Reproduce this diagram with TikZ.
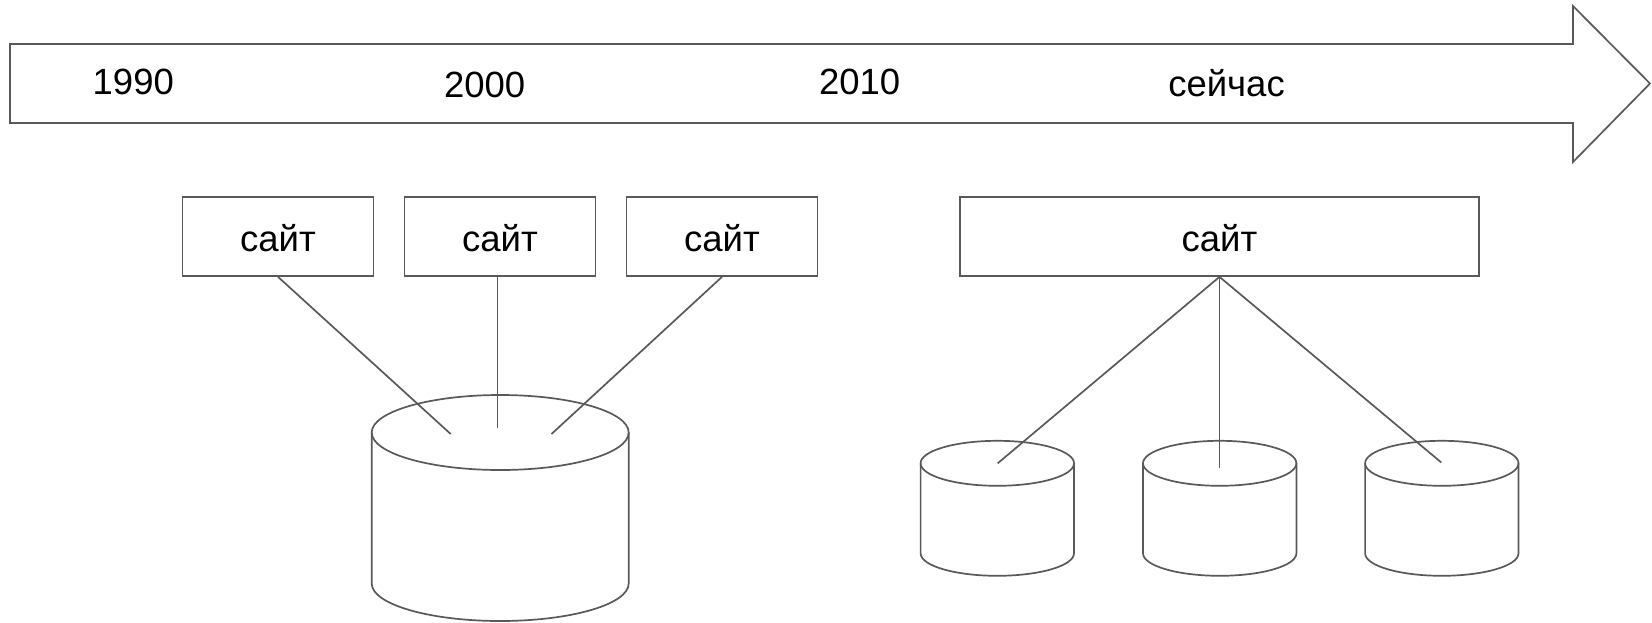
\documentclass[tikz,border=0pt]{standalone}
\usepackage{fontspec}
\setmainfont{Liberation Sans}
\definecolor{linegray}{HTML}{595959}
\tikzset{
  outline/.style={draw=linegray, line width=1.7pt, line join=miter},
  edge/.style={draw=linegray, line width=1.7pt},
  labeltext/.style={font=\fontsize{36.5}{44}\selectfont, text=black},
  yearlabel/.style={labeltext, anchor=base, inner sep=0pt},
  sitebox/.style={outline, labeltext, minimum width=191pt, minimum height=79pt,
    inner sep=0pt, text height=30pt, text depth=0pt},
  pics/db/.style n args={3}{code={
    \draw[outline, fill=white] (-#1,0) -- (-#1,-#3)
      arc[start angle=180, end angle=360, x radius=#1, y radius=#2] -- (#1,0);
    \draw[outline] (0,0) ellipse[x radius=#1, y radius=#2];
  }}
}
\begin{document}
\begin{tikzpicture}[x=1pt, y=1pt]
\useasboundingbox (0,0) rectangle (1652,-622);

% timeline arrow
\draw[outline] (10,-44) -- (1573,-44) -- (1573,-6) -- (1650,-83.5)
  -- (1573,-162) -- (1573,-123) -- (10,-123) -- cycle;
\node[yearlabel] (y1990) at (133.3,-94.5) {1990};
\node[yearlabel] (y2000) at (484.6,-97.5) {2000};
\node[yearlabel] (y2010) at (859.7,-94) {2010};
\node[yearlabel] (ynow) at (1226.5,-96) {сейчас};

% several sites sharing one database
\node[sitebox] (s1) at (278,-236.5) {сайт};
\node[sitebox] (s2) at (500,-236.5) {сайт};
\node[sitebox] (s3) at (722,-236.5) {сайт};
\pic at (500.2,-432.5) {db={128.5}{37.5}{151}};
\coordinate (e1) at (450.7,-434);
\coordinate (e2) at (497.5,-428);
\coordinate (e3) at (551.5,-434);
\draw[edge] (s1.south) -- (e1);
\draw[edge] (s2.south -| e2) -- (e2);
\draw[edge] (s3.south) -- (e3);

% one site over several databases
\node[sitebox, minimum width=519.5pt] (sall) at (1219.5,-236.5) {сайт};
\pic at (997.3,-463.3) {db={76.7}{22.5}{90}};
\pic at (1219.7,-463.3) {db={76.7}{22.5}{90}};
\pic at (1441.8,-463.3) {db={76.7}{22.5}{90}};
\coordinate (f1) at (997.7,-463.3);
\coordinate (f2) at (1219.5,-468);
\coordinate (f3) at (1441.3,-462.5);
\draw[edge] (sall.south) -- (f1);
\draw[edge] (sall.south) -- (f2);
\draw[edge] (sall.south) -- (f3);
\end{tikzpicture}
\end{document}
